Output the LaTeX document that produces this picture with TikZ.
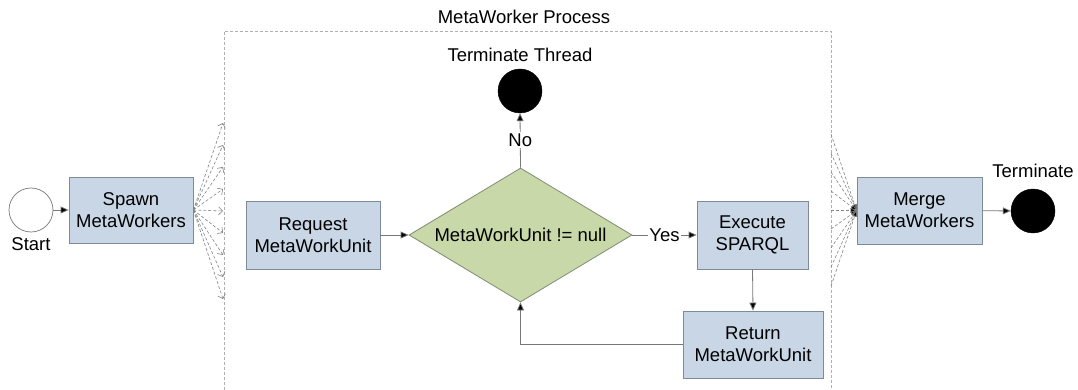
\documentclass[tikz,border=0pt]{standalone}
\usepackage{fontspec}
\setmainfont{Liberation Sans}
\usetikzlibrary{shapes.geometric,arrows.meta}

\definecolor{boxfill}{RGB}{201,214,230}
\definecolor{boxline}{RGB}{125,138,152}
\definecolor{decfill}{RGB}{200,216,168}
\definecolor{decline}{RGB}{128,138,118}
\definecolor{wire}{RGB}{120,120,120}
\definecolor{fanline}{RGB}{130,130,130}
\definecolor{frameline}{RGB}{175,175,175}

\begin{document}
\begin{tikzpicture}[x=1pt,y=-1pt,
  font=\fontsize{18.5}{22}\selectfont,
  task/.style={draw=boxline, fill=boxfill, align=center, inner sep=0pt, line width=0.8pt},
  decision/.style={shape=diamond, draw=decline, fill=decfill, inner sep=0pt, line width=0.8pt},
  startnode/.style={circle, draw=wire, fill=white, minimum size=44pt, inner sep=0pt, line width=0.7pt},
  endnode/.style={circle, draw=black, fill=black, minimum size=44pt, inner sep=0pt},
  conn/.style={draw=wire, line width=0.8pt, -{Triangle[length=8pt,width=7pt,fill=black]}},
  fan/.style={draw=fanline, line width=0.6pt, dash pattern=on 3pt off 2pt, -{Straight Barb[length=4pt,width=8pt]}},
  fanin/.style={draw=fanline, line width=0.6pt, dash pattern=on 3pt off 2pt, -{Triangle[length=6pt,width=5pt,fill=black]}},
  frame/.style={draw=frameline, line width=0.8pt, dash pattern=on 3pt off 2pt},
  tag/.style={fill=white, inner sep=1.5pt}]

\useasboundingbox (0,0) rectangle (1078,390);

% process frame (open at the bottom)
\draw[frame] (224,390) -- (224,31) -- (831,31) -- (831,390);
\node (title) at (524,17) {MetaWorker Process};

% nodes
\node[startnode] (start) at (31,210) {};
\node (startlbl) at (31,244) {Start};

\node[task, minimum width=124pt, minimum height=66pt] (spawn) at (131,210) {Spawn\\MetaWorkers};
\node[task, minimum width=134pt, minimum height=68pt] (req) at (313,235) {Request\\MetaWorkUnit};
\node[decision, minimum width=223pt, minimum height=134pt] (dec) at (520.5,235) {};
\node (dectext) at (dec.center) {MetaWorkUnit != null};
\node[endnode] (tt) at (520,91) {};
\node (ttlbl) at (520,55) {Terminate Thread};
\node[task, minimum width=111pt, minimum height=68pt] (exec) at (752.5,235) {Execute\\SPARQL};
\node[task, minimum width=140pt, minimum height=67pt] (ret) at (753,344.5) {Return\\MetaWorkUnit};
\node[task, minimum width=125pt, minimum height=67pt] (merge) at (919.5,210.5) {Merge\\MetaWorkers};
\node[endnode] (term) at (1033,211) {};
\node (termlbl) at (1033,171) {Terminate};

% fan-out of workers into the process
\foreach \y [count=\i] in {123,145,167,189,211,233,255,277,299} {
  \coordinate (out\i) at (223,\y);
  \draw[fan] (spawn.east) -- (out\i);
}

% fan-in of workers back to the merge step
\foreach \y [count=\i] in {134,153,172,191,210.5,229,248,267,286} {
  \coordinate (in\i) at (831,\y);
  \draw[fanin] (in\i) -- (merge.west);
}

% control flow
\draw[conn] (start) -- (spawn);
\draw[conn] (req) -- (dec.west);
\draw[conn] (dec.north) -- node[tag] {No} (tt.south);
\draw[conn] (dec.east) -- node[tag] {Yes} (exec.west);
\draw[conn] (exec.south) -- (ret.north);
\draw[conn] (ret.west) -| (dec.south);
\draw[conn] (merge) -- (term);
\end{tikzpicture}
\end{document}
